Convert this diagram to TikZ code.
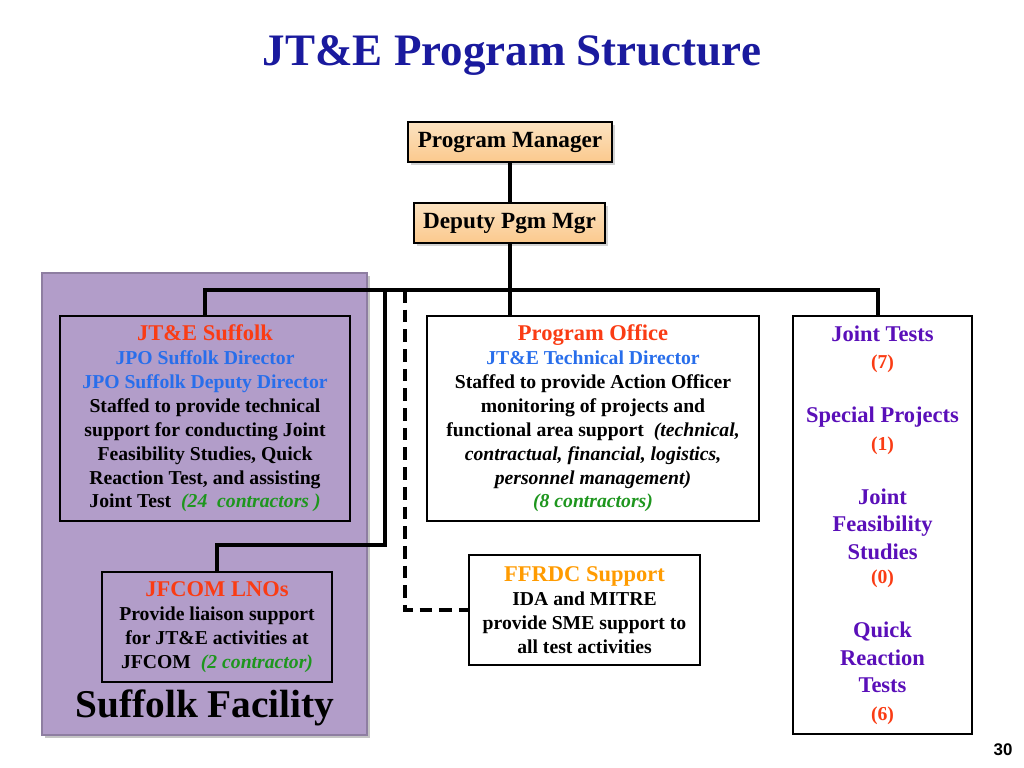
\documentclass[tikz,border=0pt]{standalone}
\usepackage{fontspec}
\setmainfont{Liberation Serif}
\setsansfont{Liberation Sans}
\usetikzlibrary{shadows}
\definecolor{titleblue}{RGB}{26,26,158}
\definecolor{headred}{RGB}{250,60,20}
\definecolor{dirblue}{RGB}{40,110,235}
\definecolor{contgreen}{RGB}{30,150,30}
\definecolor{ffrdcorange}{RGB}{255,155,0}
\definecolor{grouppurple}{RGB}{90,15,185}
\definecolor{facility}{RGB}{178,157,201}
\definecolor{peach}{RGB}{250,214,166}
\newcommand{\grp}[1]{{\color{grouppurple}#1}}
\newcommand{\cnt}[1]{{\color{headred}\fontsize{14}{16}\selectfont#1}}
\newcommand{\hd}[2]{{\color{#1}\fontsize{16}{17}\selectfont#2}}
\tikzset{
  box/.style={draw, fill=white, line width=1pt, align=center, inner sep=0pt,
    font=\bfseries\fontsize{14}{17}\selectfont},
  mgr/.style={draw, line width=0.8pt, top color=peach!70, bottom color=peach!85!orange,
    drop shadow={opacity=0.35}, align=center, font=\bfseries\fontsize{16.5}{18}\selectfont,
    minimum height=1cm},
  link/.style={line width=2.6pt},
  dotlink/.style={line width=2.6pt, dash pattern=on 9pt off 5pt}
}
\begin{document}
\begin{tikzpicture}[x=0.025cm,y=-0.025cm]
\useasboundingbox (0,0) rectangle (1024,768);
\node (title) at (512,56) {\color{titleblue}\bfseries\fontsize{32}{38}\selectfont JT\&E Program Structure};
\fill[black!45, opacity=0.5] (45,276) rectangle (370,738);
\draw[facility!80!black, line width=1pt, fill=facility] (42,273) rectangle (367,735);
\node (pm) [mgr, minimum width=5.1cm] at (510,142) {Program Manager};
\node (dpm) [mgr, minimum width=4.775cm] at (509.5,223) {Deputy Pgm Mgr};
\node (suf) [box, fill=none, minimum width=7.25cm, minimum height=5.125cm] at (205,418.5)
  {\hd{headred}{JT\&E Suffolk}\\
   {\color{dirblue}JPO Suffolk Director}\\
   {\color{dirblue}JPO Suffolk Deputy Director}\\
   Staffed to provide technical\\ support for conducting Joint\\
   Feasibility Studies, Quick\\ Reaction Test, and assisting\\
   Joint Test \ {\color{contgreen}\itshape (24\ \ contractors )}};
\node (po) [box, minimum width=8.3cm, minimum height=5.125cm] at (593,418.5)
  {\hd{headred}{Program Office}\\
   {\color{dirblue}JT\&E Technical Director}\\
   Staffed to provide Action Officer\\ monitoring of projects and\\
   functional area support \ {\itshape(technical,}\\
   {\itshape contractual, financial, logistics,}\\ {\itshape personnel management)}\\
   {\color{contgreen}\itshape (8 contractors)}};
\node (jt) [box, minimum width=4.475cm, minimum height=10.45cm, font=\bfseries\fontsize{16}{19.5}\selectfont] at (882.5,525)
  {\grp{Joint Tests}\\ \cnt{(7)}\\[19pt]
   \grp{Special Projects}\\ \cnt{(1)}\\[19pt]
   \grp{Joint}\\ \grp{Feasibility}\\ \grp{Studies}\\[-2pt] \cnt{(0)}\\[19pt]
   \grp{Quick}\\ \grp{Reaction}\\ \grp{Tests}\\ \cnt{(6)}};
\node (jfcom) [box, fill=none, minimum width=5.75cm, minimum height=2.75cm] at (217,627)
  {\hd{headred}{JFCOM LNOs}\\
   Provide liaison support\\ for JT\&E activities at\\
   JFCOM \ {\color{contgreen}\itshape (2 contractor)}};
\node (ffrdc) [box, minimum width=5.775cm, minimum height=2.75cm] at (584.5,610)
  {\hd{ffrdcorange}{FFRDC Support}\\
   IDA and MITRE\\ provide SME support to\\ all test activities};
\node (fac) at (205,708) {\bfseries\fontsize{28}{32}\selectfont Suffolk Facility};
\node (page) at (1003,750) {\sffamily\bfseries\fontsize{12}{14}\selectfont 30};
\coordinate (barL) at (205,290);
\coordinate (barR) at (878,290);
\coordinate (jfTop) at (385,290);
\coordinate (jfBend) at (385,545);
\coordinate (ffTop) at (405,290);
\draw[link] (pm.south) -- (pm.south |- dpm.north);
\draw[link] (pm.south |- dpm.south) -- (pm.south |- po.north);
\draw[link] (suf.north) -- (barL) -- (barR) -- (barR |- jt.north);
\draw[link] (jfTop) -- (jfBend) -| (jfcom.north);
\draw[dotlink] (ffTop) |- (ffrdc.west);
\end{tikzpicture}
\end{document}
